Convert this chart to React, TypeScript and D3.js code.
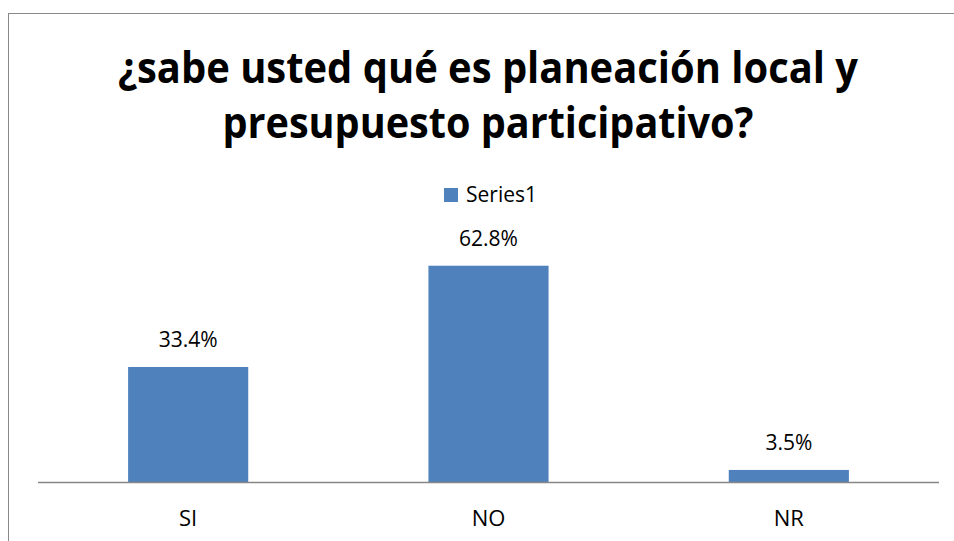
import React from "react";
import * as d3 from "d3";

const categories = ["SI", "NO", "NR"];
const values = [33.4, 62.8, 3.5];
const valueLabels = ["33.4%", "62.8%", "3.5%"];
const seriesName = "Series1";
const titleLines = ["¿sabe usted qué es planeación local y", "presupuesto participativo?"];
const titleWidths = [740, 531];

const W = 954;
const H = 541;
const FONT = "'Open Sans', 'Noto Sans', sans-serif";

export default function App() {
  const plotLeft = 38;
  const plotRight = 939;
  const baseY = 482;
  const x = d3.scaleBand<string>().domain(categories).range([plotLeft, plotRight]).padding(0);
  const y = d3.scaleLinear().domain([0, 70]).range([baseY, baseY - 70 * 3.444]);
  const barW = x.bandwidth() * 0.4;

  return (
    <svg
      width={W}
      height={H}
      style={{ position: "absolute", left: 0, top: 0, background: "#fff" }}
    >
      <rect x={8.5} y={13.5} width={W} height={H} fill="#fff" stroke="#888" strokeWidth={1} />
      {titleLines.map((t, i) => (
        <text
          key={i}
          x={488}
          y={83 + i * 55}
          textAnchor="middle"
          fontFamily={FONT}
          fontWeight="bold"
          fontSize={43}
          textLength={titleWidths[i]}
          lengthAdjust="spacingAndGlyphs"
          fill="#000"
        >
          {t}
        </text>
      ))}
      <rect x={444} y={188} width={14} height={14} fill="#4f81bd" />
      <text x={466} y={202} fontFamily={FONT} fontSize={21} fill="#000">
        {seriesName}
      </text>
      {categories.map((c, i) => {
        const cx = (x(c) as number) + x.bandwidth() / 2;
        return (
          <g key={c}>
            <rect
              x={cx - barW / 2}
              y={y(values[i])}
              width={barW}
              height={baseY - y(values[i])}
              fill="#4f81bd"
            />
            <text
              x={cx}
              y={y(values[i]) - 20}
              textAnchor="middle"
              fontFamily={FONT}
              fontSize={21}
              fill="#000"
            >
              {valueLabels[i]}
            </text>
            <text x={cx} y={526} textAnchor="middle" fontFamily={FONT} fontSize={22} fill="#000">
              {c}
            </text>
          </g>
        );
      })}
      <line x1={plotLeft} x2={plotRight} y1={baseY + 0.5} y2={baseY + 0.5} stroke="#868686" strokeWidth={1.5} />
    </svg>
  );
}
